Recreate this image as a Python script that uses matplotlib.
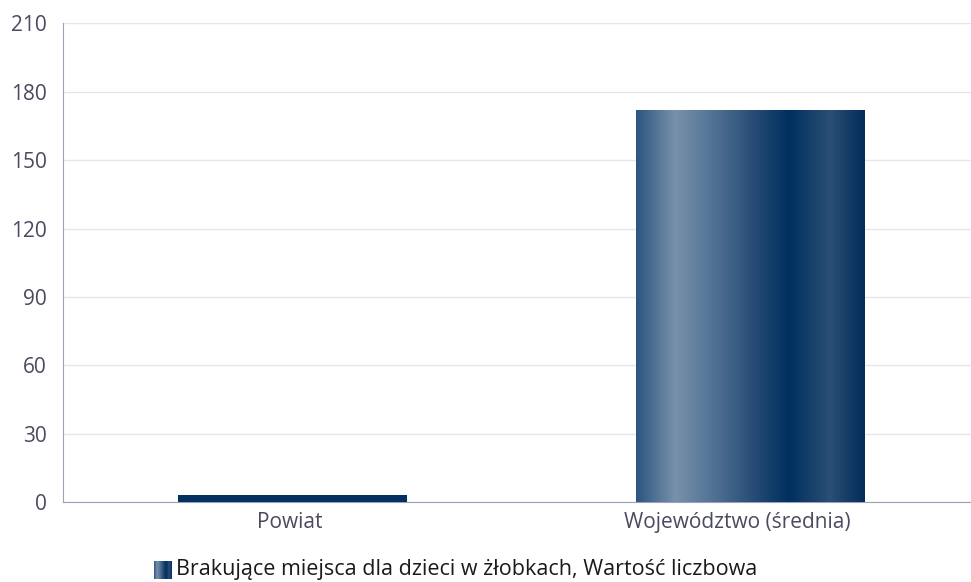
import numpy as np
import matplotlib
matplotlib.use("Agg")
import matplotlib.pyplot as plt
import matplotlib.transforms as mtransforms
from matplotlib.colors import LinearSegmentedColormap

categories = ["Powiat", "Województwo (średnia)"]
values = [3, 172]
series_name = "Brakujące miejsca dla dzieci w żłobkach, Wartość liczbowa"
yticks = [0, 30, 60, 90, 120, 150, 180, 210]

plt.rcParams['font.family'] = ['Open Sans', 'DejaVu Sans']

W, H = 971, 582
fig = plt.figure(figsize=(W / 100, H / 100), dpi=100)
left, right = 63, 971
top, bottom = 23.3, 502.3
ax = fig.add_axes([left / W, 1 - bottom / H, (right - left) / W, (bottom - top) / H])

grad = LinearSegmentedColormap.from_list("cyl", [
    (0.0, "#2b5580"), (0.17, "#7891aa"), (0.35, "#4f6f92"),
    (0.55, "#1d4570"), (0.67, "#00305f"), (0.85, "#2b4f75"), (1.0, "#022d5c")])

band = 458.0
xmin = -0.5
xmax = xmin + (right - left) / band
width = 0.5
x = np.arange(len(categories))
bars = ax.bar(x, values, width=width, color="#03305f", zorder=3)

gimg = np.linspace(0, 1, 256).reshape(1, -1)
for b, v in zip(bars, values):
    if v > 20:
        b.set_facecolor("none")
        im = ax.imshow(gimg, cmap=grad, aspect="auto",
                       extent=[b.get_x(), b.get_x() + b.get_width(), 0, v],
                       zorder=3, interpolation="bilinear")
        im.set_clip_path(b)

ax.set_xlim(xmin, xmax)
ax.set_ylim(0, 210)
ax.set_yticks(yticks)
ax.set_xticks(x)
ax.set_xticklabels(categories)
ax.grid(axis="y", color="#e6e6e6", linewidth=1, zorder=0)
for s in ["top", "right"]:
    ax.spines[s].set_visible(False)
ax.spines["left"].set_color("#a0a0b8")
ax.spines["bottom"].set_color("#a0a0b8")
ax.tick_params(axis="both", length=0, labelsize=15, colors="#4a4a60")
ax.tick_params(axis="y", pad=11.5)
ax.tick_params(axis="x", pad=7)

nudges = [-2, -13]
for lab, dx in zip(ax.get_xticklabels(), nudges):
    lab.set_transform(lab.get_transform() +
                      mtransforms.ScaledTranslation(dx / 100, 0, fig.dpi_scale_trans))

ly = 570
sw = fig.add_axes([154 / W, 1 - (ly + 9) / H, 18 / W, 18 / H])
sw.imshow(gimg, cmap=grad, aspect="auto", interpolation="bilinear")
sw.set_axis_off()
fig.text(176 / W, 1 - ly / H, series_name, ha="left", va="center",
         fontsize=15.5, color="#1a1a1a")

fig.savefig("out.png", dpi=100)
